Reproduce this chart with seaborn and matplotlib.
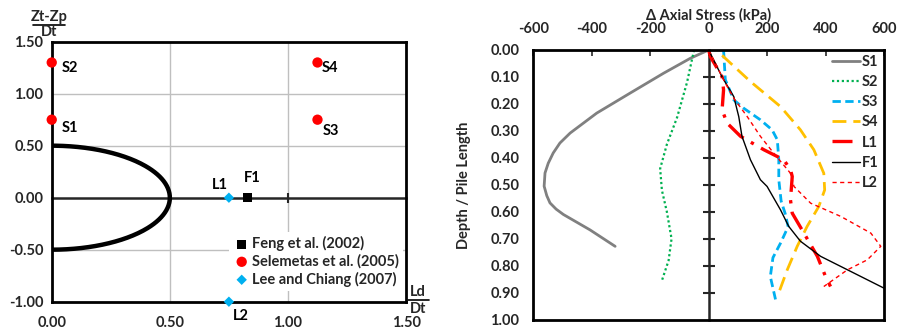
import numpy as np
import pandas as pd
import seaborn as sns
import matplotlib
matplotlib.use("Agg")
import matplotlib.pyplot as plt
from matplotlib.lines import Line2D

# ---- Left panel: tunnel / pile positions (normalised) ----
feng_x = [0.83]
feng_y = [0.0]
feng_lbl = ["F1"]
sel_x = [0.0, 0.0, 1.125, 1.125]
sel_y = [0.75, 1.30, 0.75, 1.30]
sel_lbl = ["S1", "S2", "S3", "S4"]
lee_x = [0.75, 0.75]
lee_y = [0.0, -1.0]
lee_lbl = ["L1", "L2"]
tunnel_radius = 0.5
left_xticks = [0.0, 0.5, 1.0, 1.5]
left_yticks = [-1.0, -0.5, 0.0, 0.5, 1.0, 1.5]

# ---- Right panel: change in axial stress vs normalised depth ----
s1_depth = [0.0, 0.031, 0.086, 0.16, 0.234, 0.308, 0.345, 0.382, 0.42, 0.456, 0.505, 0.54, 0.567, 0.59, 0.61, 0.667, 0.728]
s1_stress = [0, -63, -154, -269, -383, -474, -509, -532, -549, -560, -563, -554, -543, -522, -497, -406, -320]
s2_depth = [0.0, 0.12, 0.25, 0.35, 0.44, 0.52, 0.60, 0.70, 0.78, 0.855]
s2_stress = [-50, -74, -108, -143, -166, -160, -143, -127, -137, -160]
s3_depth = [0.0, 0.11, 0.185, 0.216, 0.259, 0.296, 0.333, 0.407, 0.481, 0.56, 0.607, 0.655, 0.716, 0.77, 0.84, 0.926]
s3_stress = [51, 57, 86, 120, 177, 217, 235, 240, 240, 248, 262, 272, 246, 220, 211, 229]
s4_depth = [0.02, 0.117, 0.21, 0.296, 0.37, 0.457, 0.519, 0.58, 0.654, 0.728, 0.815, 0.90]
s4_stress = [46, 143, 246, 314, 360, 394, 397, 377, 337, 303, 269, 240]
l1_depth = [0.0, 0.025, 0.099, 0.148, 0.222, 0.271, 0.32, 0.37, 0.407, 0.444, 0.469, 0.556, 0.605, 0.679, 0.765, 0.84, 0.877]
l1_stress = [0, 6, 46, 51, 46, 63, 109, 189, 257, 280, 286, 280, 286, 326, 372, 400, 417]
f1_depth = [0.0, 0.1, 0.173, 0.247, 0.32, 0.407, 0.481, 0.506, 0.593, 0.654, 0.709, 0.765, 0.815, 0.883]
f1_stress = [0, 46, 86, 103, 114, 143, 177, 200, 246, 274, 314, 383, 475, 600]
l2_depth = [0.0, 0.123, 0.179, 0.247, 0.32, 0.383, 0.457, 0.506, 0.568, 0.617, 0.679, 0.728, 0.778, 0.815, 0.877]
l2_stress = [0, 57, 86, 132, 177, 223, 280, 292, 349, 452, 555, 589, 543, 475, 394]
right_xticks = [-600, -400, -200, 0, 200, 400, 600]
right_yticks = [0.0, 0.1, 0.2, 0.3, 0.4, 0.5, 0.6, 0.7, 0.8, 0.9, 1.0]

sns.set_style("white")
plt.rcParams["font.family"] = ["Lato", "DejaVu Sans"]
plt.rcParams["font.weight"] = "bold"
plt.rcParams["axes.unicode_minus"] = False
FS = 10.5
FW = "bold"

fig = plt.figure(figsize=(8.98, 3.28), dpi=100)
axL = fig.add_axes([0.0576, 0.0802, 0.3946, 0.7927])
axR = fig.add_axes([0.5939, 0.0253, 0.3905, 0.8223])

# ================= left panel =================
grid_c = "#BFBFBF"
for gx in [0.5, 1.0]:
    axL.axvline(gx, color=grid_c, lw=1.0, zorder=0)
for gy in [-0.5, 0.5, 1.0]:
    axL.axhline(gy, color=grid_c, lw=1.0, zorder=0)

# tunnel outline (half circle about the origin)
th = np.linspace(-np.pi / 2, np.pi / 2, 200)
circ = pd.DataFrame({"x": tunnel_radius * np.cos(th), "y": tunnel_radius * np.sin(th)})
sns.lineplot(data=circ, x="x", y="y", sort=False, estimator=None, color="black",
             lw=3.2, ax=axL, zorder=3)

sns.scatterplot(x=feng_x, y=feng_y, marker="s", color="black", s=45, edgecolor="none",
                label="Feng et al. (2002)", ax=axL, zorder=5, clip_on=False)
sns.scatterplot(x=sel_x, y=sel_y, marker="o", color="#FF0000", s=55, edgecolor="none",
                label="Selemetas et al. (2005)", ax=axL, zorder=5, clip_on=False)
sns.scatterplot(x=lee_x, y=lee_y, marker="D", color="#00B0F0", s=28, edgecolor="none",
                label="Lee and Chiang (2007)", ax=axL, zorder=5, clip_on=False)

lbl_kw = dict(fontsize=FS, fontweight=FW, color="black")
offsets = {"S1": (7, -6, "left", "center"), "S2": (7, -4, "left", "center"),
           "S3": (4, -8, "left", "center"), "S4": (3, -4, "left", "center"),
           "L1": (-1, 9, "right", "center"), "F1": (-3, 14, "left", "center"),
           "L2": (3, -10, "left", "center")}
for xs, ys, ls in [(feng_x, feng_y, feng_lbl), (sel_x, sel_y, sel_lbl), (lee_x, lee_y, lee_lbl)]:
    for x, y, t in zip(xs, ys, ls):
        dx, dy, ha, va = offsets[t]
        axL.annotate(t, (x, y), xytext=(dx, dy), textcoords="offset points",
                     ha=ha, va=va, **lbl_kw)

axL.set_xlim(0, 1.5)
axL.set_ylim(-1.0, 1.5)
axL.set_xticks(left_xticks)
axL.set_yticks(left_yticks)
axL.set_xticklabels([f"{v:.2f}" for v in left_xticks], fontsize=FS, fontweight=FW)
axL.set_yticklabels([f"{v:.2f}" for v in left_yticks], fontsize=FS, fontweight=FW)
axL.tick_params(axis="x", length=0, pad=10)
axL.tick_params(axis="y", direction="in", length=4, width=1.2, pad=6)
for sp in axL.spines.values():
    sp.set_visible(True)
    sp.set_color("black")
    sp.set_linewidth(2.0)
axL.set_xlabel("")
axL.set_ylabel("")

# horizontal axis line through zero
secx = axL.secondary_xaxis(0.4)
secx.set_xticks([0.5, 1.0])
secx.tick_params(direction="inout", length=7, width=1.5, labelbottom=False, labeltop=False)
secx.spines["bottom"].set_linewidth(1.8)
secx.spines["top"].set_linewidth(1.8)

leg = axL.legend(loc="lower right", bbox_to_anchor=(1.0, 0.03), frameon=True, fontsize=FS,
                 handletextpad=0.1, labelspacing=0.2, borderaxespad=0.2, handlelength=1.2,
                 borderpad=0.3, markerscale=1.0)
leg.get_frame().set_edgecolor("none")
leg.get_frame().set_facecolor("white")
leg.get_frame().set_alpha(1.0)
leg.get_frame().set_boxstyle("square", pad=0.0)
for t in leg.get_texts():
    t.set_fontweight(FW)

# fraction-style axis titles
fig.text(49 / 898, 1 - 17 / 328, "Zt-Zp", ha="center", va="center", fontsize=FS, fontweight=FW)
fig.text(49 / 898, 1 - 32 / 328, "Dt", ha="center", va="center", fontsize=FS, fontweight=FW)
fig.add_artist(Line2D([33 / 898, 65 / 898], [1 - 24.5 / 328, 1 - 24.5 / 328], color="black", lw=1.2))
fig.text(418 / 898, 1 - 292 / 328, "Ld", ha="center", va="center", fontsize=FS, fontweight=FW)
fig.text(418 / 898, 1 - 309 / 328, "Dt", ha="center", va="center", fontsize=FS, fontweight=FW)
fig.add_artist(Line2D([408 / 898, 429 / 898], [1 - 300 / 328, 1 - 300 / 328], color="black", lw=1.2))

# ================= right panel =================
series = [
    ("S1", s1_stress, s1_depth, dict(color="#808080", lw=2.0, linestyle="-")),
    ("S2", s2_stress, s2_depth, dict(color="#00B050", lw=1.6, linestyle=(0, (1, 1.2)))),
    ("S3", s3_stress, s3_depth, dict(color="#00B0F0", lw=2.0, linestyle=(0, (3, 1.6)))),
    ("S4", s4_stress, s4_depth, dict(color="#FFC000", lw=2.0, linestyle=(0, (5, 2.5)))),
    ("L1", l1_stress, l1_depth, dict(color="#FF0000", lw=2.4, linestyle=(0, (6, 2.5, 1, 2.5)))),
    ("F1", f1_stress, f1_depth, dict(color="black", lw=1.0, linestyle="-")),
    ("L2", l2_stress, l2_depth, dict(color="#FF0000", lw=1.0, linestyle=(0, (3, 2.5)))),
]
for name, xs, ys, kw in series:
    sns.lineplot(x=xs, y=ys, sort=False, estimator=None, label=name, ax=axR, **kw)

axR.set_xlim(-600, 600)
axR.set_ylim(1.0, 0.0)
axR.xaxis.tick_top()
axR.xaxis.set_label_position("top")
axR.set_xticks(right_xticks)
axR.set_xticklabels([f"{v}" for v in right_xticks], fontsize=FS, fontweight=FW)
axR.set_yticks(right_yticks)
axR.set_yticklabels([f"{v:.2f}" for v in right_yticks], fontsize=FS, fontweight=FW)
axR.tick_params(axis="x", direction="in", length=4, width=1.2, pad=10, top=True, bottom=False)
axR.tick_params(axis="y", length=0, pad=10)
axR.set_xlabel("Δ Axial Stress (kPa)", fontsize=FS, fontweight=FW, labelpad=2)
axR.set_ylabel("Depth / Pile Length", fontsize=FS, fontweight=FW, labelpad=14)
for sp in axR.spines.values():
    sp.set_visible(True)
    sp.set_color("black")
    sp.set_linewidth(2.0)

secy = axR.secondary_yaxis(0.5)
secy.set_yticks(right_yticks[1:-1])
secy.tick_params(direction="inout", length=8, width=1.5, labelleft=False, labelright=False)
secy.spines["left"].set_linewidth(1.8)
secy.spines["right"].set_linewidth(1.8)

legR = axR.legend(loc="upper right", frameon=False, fontsize=FS, handlelength=1.9,
                  handletextpad=0.15, labelspacing=0.42, borderaxespad=0.15, borderpad=0.2)
for t in legR.get_texts():
    t.set_fontweight(FW)

fig.savefig("out.png", dpi=100)
